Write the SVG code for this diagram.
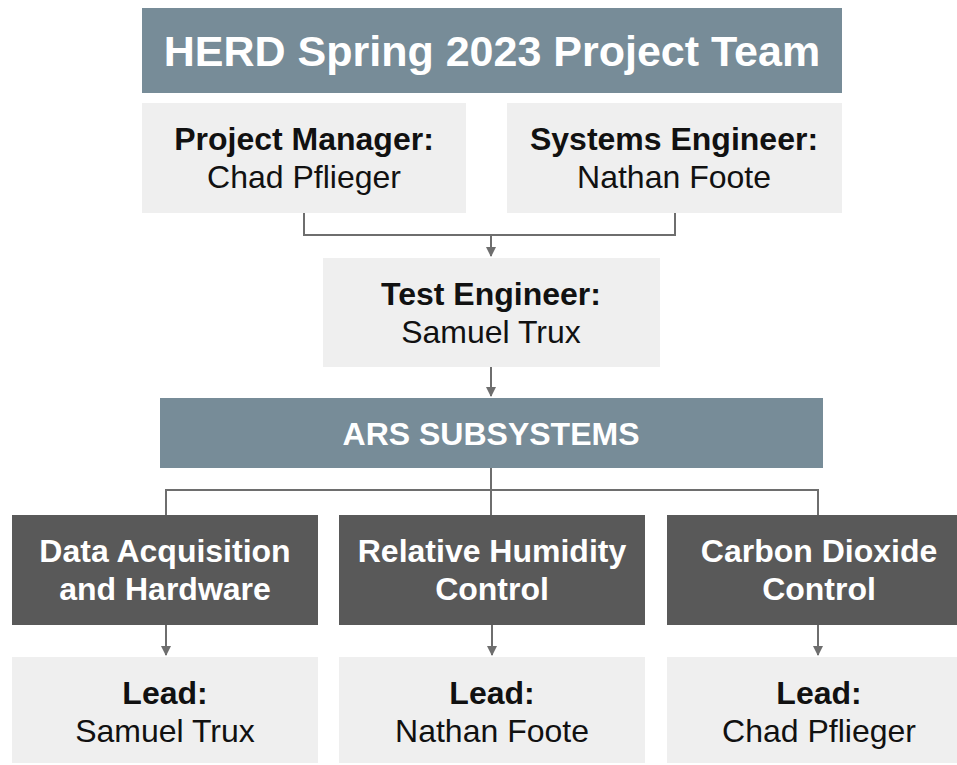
<svg xmlns="http://www.w3.org/2000/svg" width="957" height="765" viewBox="0 0 957 765">
  <style>
    text { font-family: "Liberation Sans", Arial, sans-serif; font-size: 32px; text-anchor: middle; }
    .b { font-weight: bold; }
    .light { fill: #efefef; }
    .slate { fill: #778c98; }
    .dark { fill: #595959; }
    .ink { fill: #111111; }
    .white { fill: #ffffff; }
    .wire { fill: none; stroke: #6e6e6e; stroke-width: 2; }
  </style>
  <defs>
    <marker id="arrow" viewBox="0 0 10 10" refX="9" refY="5" markerWidth="12" markerHeight="10" markerUnits="userSpaceOnUse" orient="auto">
      <path d="M0,0 L10,5 L0,10 z" fill="#6e6e6e"/>
    </marker>
  </defs>
  <rect width="957" height="765" fill="#ffffff"/>

  <g id="connectors">
    <path class="wire" d="M304,213 V235 H675 V213"/>
    <path class="wire" d="M491,235 V256" marker-end="url(#arrow)"/>
    <path class="wire" d="M491,367 V396" marker-end="url(#arrow)"/>
    <path class="wire" d="M491,468 V515"/>
    <path class="wire" d="M166,515 V490 H818 V515"/>
    <path class="wire" d="M166,625 V655" marker-end="url(#arrow)"/>
    <path class="wire" d="M492,625 V655" marker-end="url(#arrow)"/>
    <path class="wire" d="M818,625 V655" marker-end="url(#arrow)"/>
  </g>

  <g id="title">
    <rect class="slate" x="142" y="8" width="700" height="85"/>
    <text class="b white" x="492" y="66" style="font-size:43px">HERD Spring 2023 Project Team</text>
  </g>

  <g id="project-manager">
    <rect class="light" x="142" y="103" width="324" height="110"/>
    <text class="b ink" x="304" y="150">Project Manager:</text>
    <text class="ink" x="304" y="188">Chad Pflieger</text>
  </g>

  <g id="systems-engineer">
    <rect class="light" x="507" y="103" width="335" height="110"/>
    <text class="b ink" x="674" y="150">Systems Engineer:</text>
    <text class="ink" x="674" y="188">Nathan Foote</text>
  </g>

  <g id="test-engineer">
    <rect class="light" x="323" y="258" width="337" height="109"/>
    <text class="b ink" x="491" y="305">Test Engineer:</text>
    <text class="ink" x="491" y="343">Samuel Trux</text>
  </g>

  <g id="ars-subsystems">
    <rect class="slate" x="160" y="398" width="663" height="70"/>
    <text class="b white" x="491" y="445">ARS SUBSYSTEMS</text>
  </g>

  <g id="data-acquisition">
    <rect class="dark" x="12" y="515" width="306" height="110"/>
    <text class="b white" x="165" y="562">Data Acquisition</text>
    <text class="b white" x="165" y="600">and Hardware</text>
  </g>

  <g id="relative-humidity">
    <rect class="dark" x="339" y="515" width="306" height="110"/>
    <text class="b white" x="492" y="562">Relative Humidity</text>
    <text class="b white" x="492" y="600">Control</text>
  </g>

  <g id="carbon-dioxide">
    <rect class="dark" x="667" y="515" width="304" height="110"/>
    <text class="b white" x="819" y="562">Carbon Dioxide</text>
    <text class="b white" x="819" y="600">Control</text>
  </g>

  <g id="lead-daq">
    <rect class="light" x="12" y="657" width="306" height="106"/>
    <text class="b ink" x="165" y="704">Lead:</text>
    <text class="ink" x="165" y="742">Samuel Trux</text>
  </g>

  <g id="lead-rh">
    <rect class="light" x="339" y="657" width="306" height="106"/>
    <text class="b ink" x="492" y="704">Lead:</text>
    <text class="ink" x="492" y="742">Nathan Foote</text>
  </g>

  <g id="lead-co2">
    <rect class="light" x="667" y="657" width="304" height="106"/>
    <text class="b ink" x="819" y="704">Lead:</text>
    <text class="ink" x="819" y="742">Chad Pflieger</text>
  </g>
</svg>
